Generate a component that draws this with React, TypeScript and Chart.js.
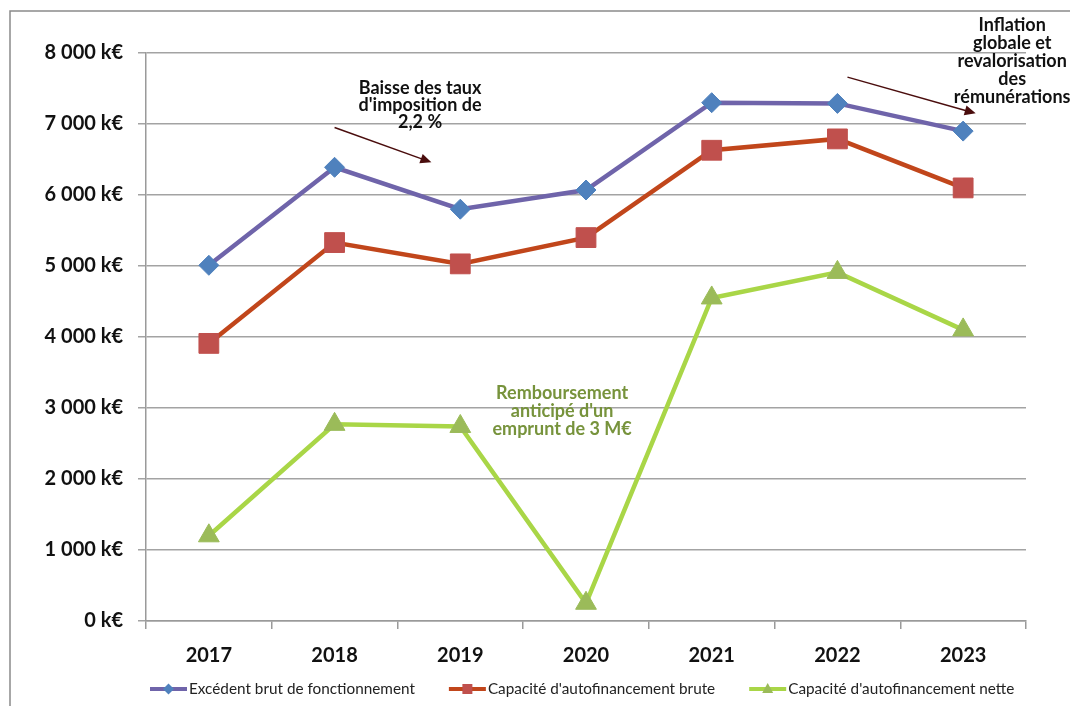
import React, { useEffect, useRef } from "react";
import { Chart, registerables } from "chart.js";

Chart.register(...registerables);

// ---- data ----
const years = ["2017", "2018", "2019", "2020", "2021", "2022", "2023"];
const excedentBrut = [5010, 6390, 5800, 6070, 7300, 7290, 6900];
const cafBrute = [3910, 5330, 5030, 5400, 6630, 6790, 6100];
const cafNette = [1200, 2770, 2740, 250, 4550, 4910, 4100];
const seriesLabels = [
  "Excédent brut de fonctionnement",
  "Capacité d'autofinancement brute",
  "Capacité d'autofinancement nette",
];
const yMin = 0;
const yMax = 8000;
const yStep = 1000;

const noteBaisse = ["Baisse des taux", "d'imposition de", "2,2 %"];
const noteInflation = ["Inflation", "globale et", "revalorisation", "des", "rémunérations"];
const noteRemboursement = ["Remboursement", "anticipé d'un", "emprunt de 3 M€"];

const FONT = "Lato, 'Open Sans', 'DejaVu Sans', sans-serif";

function formatK(v: number): string {
  const s = String(Math.round(v)).replace(/\B(?=(\d{3})+(?!\d))/g, " ");
  return s + " k€";
}

function drawMarker(ctx: CanvasRenderingContext2D, style: string, x: number, y: number, r: number, color: string) {
  ctx.save();
  ctx.fillStyle = color;
  ctx.beginPath();
  if (style === "rectRot") {
    ctx.moveTo(x, y - r);
    ctx.lineTo(x + r, y);
    ctx.lineTo(x, y + r);
    ctx.lineTo(x - r, y);
  } else if (style === "rect") {
    ctx.rect(x - r, y - r, 2 * r, 2 * r);
  } else {
    const h = r * 1.8;
    ctx.moveTo(x, y - h * 0.6);
    ctx.lineTo(x + r, y + h * 0.4);
    ctx.lineTo(x - r, y + h * 0.4);
  }
  ctx.closePath();
  ctx.fill();
  ctx.restore();
}

function drawArrow(ctx: CanvasRenderingContext2D, x1: number, y1: number, x2: number, y2: number) {
  const color = "#4a0d0d";
  const ang = Math.atan2(y2 - y1, x2 - x1);
  const hl = 11;
  const hw = 5;
  ctx.save();
  ctx.strokeStyle = color;
  ctx.fillStyle = color;
  ctx.lineWidth = 1.5;
  ctx.beginPath();
  ctx.moveTo(x1, y1);
  ctx.lineTo(x2 - Math.cos(ang) * hl * 0.8, y2 - Math.sin(ang) * hl * 0.8);
  ctx.stroke();
  ctx.beginPath();
  ctx.moveTo(x2, y2);
  ctx.lineTo(x2 - Math.cos(ang) * hl - Math.sin(ang) * hw, y2 - Math.sin(ang) * hl + Math.cos(ang) * hw);
  ctx.lineTo(x2 - Math.cos(ang) * hl + Math.sin(ang) * hw, y2 - Math.sin(ang) * hl - Math.cos(ang) * hw);
  ctx.closePath();
  ctx.fill();
  ctx.restore();
}

function drawNote(ctx: CanvasRenderingContext2D, lines: string[], x: number, y: number, spacing: number, color: string) {
  ctx.save();
  ctx.font = `bold 18px ${FONT}`;
  ctx.fillStyle = color;
  ctx.textAlign = "center";
  ctx.textBaseline = "middle";
  lines.forEach((l, i) => ctx.fillText(l, x, y + i * spacing));
  ctx.restore();
}

const decorPlugin = {
  id: "decor",
  beforeDraw(chart: any) {
    const ctx = chart.ctx as CanvasRenderingContext2D;
    ctx.save();
    ctx.strokeStyle = "#8a8a8a";
    ctx.lineWidth = 1.5;
    ctx.beginPath();
    ctx.moveTo(10, chart.height);
    ctx.lineTo(10, 11);
    ctx.lineTo(chart.width, 11);
    ctx.stroke();
    ctx.restore();
  },
  afterDraw(chart: any) {
    const ctx = chart.ctx as CanvasRenderingContext2D;
    const xs = chart.scales.x;
    const ys = chart.scales.y;
    const px = (i: number) => xs.getPixelForValue(i);
    const py = (v: number) => ys.getPixelForValue(v);

    // annotations
    drawNote(ctx, noteBaisse, px(1.68), py(7500), 17, "#111111");
    drawArrow(ctx, px(1.0), py(6950), px(1.77), py(6460));
    drawNote(ctx, noteInflation, px(6.39), py(8390), 18, "#111111");
    drawArrow(ctx, px(5.08), py(7660), px(6.1), py(7150));
    drawNote(ctx, noteRemboursement, px(2.81), py(3210), 18, "#77933c");

    // legend
    ctx.save();
    ctx.font = `15.3px ${FONT}`;
    ctx.textBaseline = "middle";
    ctx.textAlign = "left";
    const ly = 689;
    let lx = 150;
    chart.data.datasets.forEach((ds: any) => {
      ctx.strokeStyle = ds.borderColor;
      ctx.lineWidth = 4;
      ctx.beginPath();
      ctx.moveTo(lx, ly);
      ctx.lineTo(lx + 37, ly);
      ctx.stroke();
      const r = ds.pointStyle === "rect" ? 5 : 5.5;
      drawMarker(ctx, ds.pointStyle, lx + 18.5, ly, r, ds.pointBackgroundColor);
      ctx.fillStyle = "#222222";
      ctx.fillText(ds.label, lx + 39, ly);
      lx += 39 + ctx.measureText(ds.label).width + 34;
    });
    ctx.restore();
  },
};

export default function App() {
  const canvasRef = useRef<HTMLCanvasElement | null>(null);

  useEffect(() => {
    const canvas = canvasRef.current;
    if (!canvas) return;
    const chart = new Chart(canvas, {
      type: "line",
      data: {
        labels: years,
        datasets: [
          {
            label: seriesLabels[0],
            data: excedentBrut,
            borderColor: "#6f64aa",
            backgroundColor: "#4f81bd",
            pointBackgroundColor: "#4f81bd",
            pointBorderColor: "#4f81bd",
            pointStyle: "rectRot",
            pointRadius: 10,
            pointBorderWidth: 1,
            borderWidth: 4.5,
            tension: 0,
          },
          {
            label: seriesLabels[1],
            data: cafBrute,
            borderColor: "#c1461b",
            backgroundColor: "#c0504d",
            pointBackgroundColor: "#c0504d",
            pointBorderColor: "#c0504d",
            pointStyle: "rect",
            pointRadius: 14,
            pointBorderWidth: 1,
            borderWidth: 4.5,
            tension: 0,
          },
          {
            label: seriesLabels[2],
            data: cafNette,
            borderColor: "#a9d647",
            backgroundColor: "#9bbb59",
            pointBackgroundColor: "#9bbb59",
            pointBorderColor: "#9bbb59",
            pointStyle: "triangle",
            pointRadius: 12,
            pointBorderWidth: 1,
            borderWidth: 4.5,
            tension: 0,
          },
        ],
      },
      options: {
        responsive: false,
        animation: false,
        devicePixelRatio: 1,
        layout: { padding: { left: 0, top: 53, right: 44, bottom: 0 } },
        plugins: {
          legend: { display: false },
          tooltip: { enabled: false },
          title: { display: false },
        },
        scales: {
          x: {
            type: "category",
            offset: true,
            afterFit: (s: any) => {
              s.height = 85;
            },
            grid: {
              display: true,
              offset: true,
              drawOnChartArea: false,
              drawTicks: true,
              tickLength: 8,
              color: "#9a9a9a",
              lineWidth: 1.5,
            },
            border: { display: true, color: "#9a9a9a", width: 1.5 },
            ticks: {
              color: "#111111",
              font: { family: FONT, size: 20, weight: "bold" },
              padding: 15,
              maxRotation: 0,
            },
          },
          y: {
            min: yMin,
            max: yMax,
            afterFit: (s: any) => {
              s.width = 146;
            },
            grid: {
              color: "#a3a3a3",
              lineWidth: 1.5,
              tickLength: 8,
              drawTicks: true,
            },
            border: { display: true, color: "#9a9a9a", width: 1.5 },
            ticks: {
              stepSize: yStep,
              color: "#111111",
              font: { family: FONT, size: 20, weight: "bold" },
              padding: 15,
              callback: (v: any) => formatK(Number(v)),
            },
          },
        },
      },
      plugins: [decorPlugin],
    } as any);
    return () => chart.destroy();
  }, []);

  return (
    <div style={{ position: "absolute", left: 0, top: 0, width: 1070, height: 706, background: "#ffffff" }}>
      <canvas ref={canvasRef} width={1070} height={706} style={{ width: 1070, height: 706, display: "block" }} />
    </div>
  );
}
